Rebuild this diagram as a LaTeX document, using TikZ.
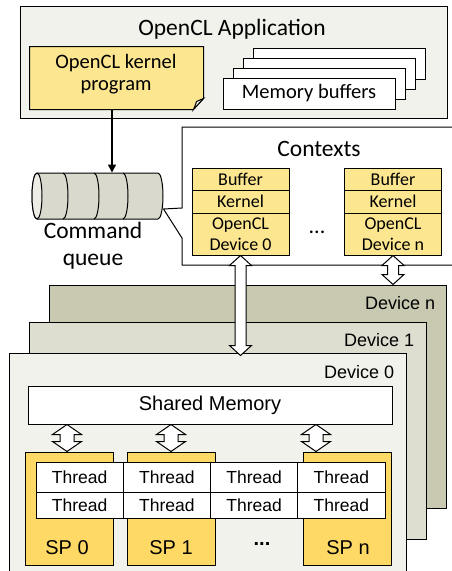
\documentclass[tikz,border=0pt]{standalone}
\usepackage{fontspec}
\setmainfont{Carlito}
\newfontfamily\arialfont{Liberation Sans}
\usetikzlibrary{calc}
\usetikzlibrary{arrows.meta}

\definecolor{appgray}{HTML}{F2F2EC}
\definecolor{notey}{HTML}{FCE690}
\definecolor{spyellow}{HTML}{FFD966}
\definecolor{qgray}{HTML}{D9D9CE}
\definecolor{qface}{HTML}{EDEDE6}
\definecolor{devnc}{HTML}{C9C9B1}
\definecolor{dev1c}{HTML}{DDDDD0}

\begin{document}
\begin{tikzpicture}[x=1pt, y=-1pt, line width=1pt,
	box/.style={draw, inner sep=0pt},
	titletext/.style={font=\fontsize{23.5}{27}\selectfont},
	notetext/.style={font=\fontsize{20.5}{22}\selectfont},
	ctxtext/.style={font=\fontsize{18}{21}\selectfont},
	devtext/.style={font=\arialfont\fontsize{18}{20}\selectfont},
	sptext/.style={font=\arialfont\fontsize{20}{20}\selectfont},
	cell/.style={box, fill=white, minimum width=87.25, font=\arialfont\fontsize{17.5}{20}\selectfont},
	ctxbox/.style={box, fill=notey, minimum width=97, ctxtext},
	spbox/.style={box, fill=spyellow, minimum width=88, minimum height=113},
	blockarr/.style n args={3}{draw, fill=white, to path={let \p1=(\tikztostart), \p2=(\tikztotarget) in
		(\x1-#1,\y1-#3) -- (\x1-#2,\y1-#3) -- (\x1,\y1) -- (\x1+#2,\y1-#3) -- (\x1+#1,\y1-#3)
		-- (\x1+#1,\y2+#3) -- (\x1+#2,\y2+#3) -- (\x1,\y2) -- (\x1-#2,\y2+#3) -- (\x1-#1,\y2+#3) -- cycle}}]
\useasboundingbox (0,0) rectangle (452,571);

% application
\node[box, fill=appgray, minimum width=427, minimum height=112] (app) at (233.5,62) {};
\node[titletext] (apptitle) at (232,29) {OpenCL Application};
\node[minimum width=173, minimum height=62, inner sep=0pt] (kern) at (116.5,78) {};
\draw[fill=notey] (kern.north west) -- (kern.north east) -- ([yshift=11pt]kern.south east)
	-- ([xshift=-10pt]kern.south east) -- (kern.south west) -- cycle;
\draw[fill=qface] ([xshift=-10pt]kern.south east) .. controls ([xshift=-8pt,yshift=5pt]kern.south east) .. ([xshift=-7pt,yshift=8pt]kern.south east) -- ([yshift=11pt]kern.south east) -- cycle;
\node[notetext, align=center] (kerntext) at (116,74) {OpenCL kernel\\program};
\foreach \i in {3,2,1}
	\node[box, fill=white, minimum width=172, minimum height=31] (buf\i) at (309+10*\i,93.5-10*\i) {};
\node[box, fill=white, minimum width=172, minimum height=31, notetext] (buf0) at (309,93.5) {Memory buffers};

% command queue
\node[minimum width=131, minimum height=46, inner sep=0pt] (queue) at (97.5,196) {};
\draw[fill=qgray] (37,173) -- (158,173) arc[start angle=-90, end angle=90, x radius=5, y radius=23]
	-- (37,219) arc[start angle=90, end angle=270, x radius=5, y radius=23] -- cycle;
\draw[fill=qface] (37,196) ellipse[x radius=5, y radius=23];
\foreach \x in {63,94,123}
	\draw (\x,173) arc[start angle=-90, end angle=90, x radius=5, y radius=23];
\node[titletext, align=center] (qlabel) at (93,246) {Command\\queue};
\draw[line width=1.6pt, -{Triangle[length=8pt,width=8pt]}] ([xshift=-4.5pt]kern.south) -- ([xshift=-4.5pt]kern.south |- queue.north);

% contexts
\draw[fill=white] (182,127) -- (460,127) -- (460,265) -- (182,265) -- (182,238)
	-- ([yshift=-13pt]queue.east) -- (182,208) -- cycle;
\node[titletext] (ctxtitle) at (319,149) {Contexts};
\foreach \s/\x in {0/240.5, n/393} {
	\node[ctxbox, minimum height=22] (ctxbuf\s) at (\x,179) {Buffer};
	\node[ctxbox, minimum height=23] (ctxkern\s) at (\x,201.5) {Kernel};
	\node[ctxbox, minimum height=42, align=center] (ctxdev\s) at (\x,234) {OpenCL\\Device \s};
}
\node[font=\fontsize{22}{22}\selectfont] (ctxdots) at (317,232) {...};

% devices
\node[box, fill=devnc, minimum width=397, minimum height=223] (devn) at (247.5,396.5) {};
\node[devtext, anchor=east] (devnlbl) at (439,303) {Device n};
\node[box, fill=dev1c, minimum width=397, minimum height=217] (dev1) at (227.5,430.5) {};
\node[devtext, anchor=east] (dev1lbl) at (418,340) {Device 1};
\node[box, fill=appgray, minimum width=397, minimum height=226] (dev0) at (207.5,466) {};
\node[devtext, anchor=east] (dev0lbl) at (398,372) {Device 0};
\node[box, fill=white, minimum width=364, minimum height=38, font=\arialfont\fontsize{20}{20}\selectfont] (shm) at (210,405) {Shared Memory};

\draw[blockarr={5.5pt}{11pt}{10pt}] (ctxdev0.south) to ([yshift=-3pt]ctxdev0.south |- dev0.north);
\draw[blockarr={5.5pt}{11pt}{10pt}] (ctxdevn.south) to (ctxdevn.south |- devn.north);

% streaming processors
\node[spbox] (sp0) at (69,508.5) {};
\node[spbox] (sp1) at (171,508.5) {};
\node[spbox] (spn) at (347,508.5) {};
\foreach \n/\dx in {0/-2, 1/0, n/-31}
	\draw[blockarr={7pt}{14.5pt}{10pt}] ($(sp\n.north |- shm.south)+(\dx,0)$) to ($(sp\n.north)+(\dx,0)$);
\foreach \c in {0,...,3} {
	\node[cell, minimum height=30] (thrA\c) at (79.625+87.25*\c,477) {Thread};
	\node[cell, minimum height=26] (thrB\c) at (79.625+87.25*\c,505) {Thread};
}
\node[sptext] (sp0lbl) at (67,548) {SP 0};
\node[sptext] (sp1lbl) at (171,548) {SP 1};
\node[sptext] (spnlbl) at (348,548) {SP n};
\node[sptext] (spdots) at (262,544) {\textbf{...}};
\end{tikzpicture}
\end{document}
